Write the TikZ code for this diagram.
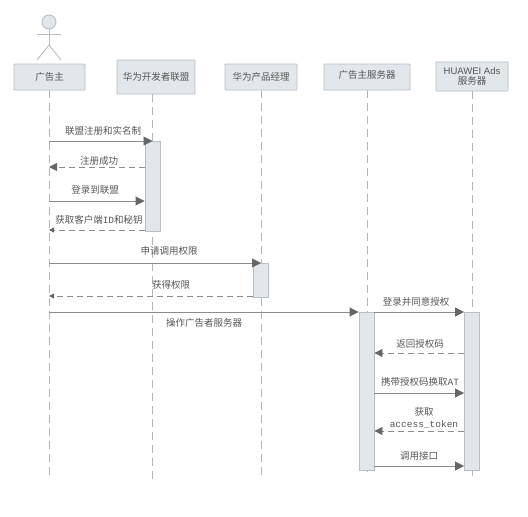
\documentclass[tikz,border=0pt]{standalone}
\usepackage{xcolor}
\usepackage{fontspec}
\setmainfont{Noto Sans CJK SC}
\newfontfamily\latinfont{Liberation Sans}
\newfontfamily\codefont{Liberation Mono}
\usetikzlibrary{arrows.meta}
\definecolor{boxfill}{HTML}{E1E7EB}
\definecolor{boxline}{HTML}{B7BEC4}
\definecolor{lifegray}{HTML}{B5B5B5}
\definecolor{msggray}{HTML}{8C8C8C}
\definecolor{tipgray}{HTML}{666666}
\definecolor{textgray}{HTML}{555555}
\tikzset{
  partbox/.style={fill=boxfill, draw=boxline, line width=0.9pt, rounded corners=0.8pt, inner sep=0pt, align=center, text=textgray, font=\fontsize{9.5}{11}\selectfont},
  barbox/.style={fill=boxfill, draw=boxline, line width=0.9pt, inner sep=0pt, minimum width=15pt},
  lifeline/.style={draw=lifegray, line width=0.8pt, dash pattern=on 8pt off 5pt},
  callmsg/.style={draw=msggray, line width=0.9pt, -{Triangle[length=9pt,width=9pt,color=tipgray]}},
  backmsg/.style={draw=msggray, line width=0.9pt, dash pattern=on 6pt off 4pt, -{Triangle[length=8pt,width=8pt,color=tipgray]}},
  backsmall/.style={backmsg, -{Triangle[length=5pt,width=5pt,color=tipgray]}},
  msglabel/.style={inner sep=0pt, text=textgray, align=center, font=\fontsize{9.5}{12}\selectfont},
  stick/.style={draw=boxline, line width=0.9pt}
}
\begin{document}
\begin{tikzpicture}[x=1pt, y=-1pt]
  \useasboundingbox (0,0) rectangle (528,517);
  % actor
  \node[circle, fill=boxfill, draw=boxline, line width=0.9pt, minimum size=14pt, inner sep=0pt] (head) at (49,22) {};
  \coordinate (hip) at (49,45);
  \coordinate (armL) at (37,34);
  \coordinate (armR) at (61,34);
  \coordinate (footL) at (37,60);
  \coordinate (footR) at (61,60);
  \draw[stick] (head) -- (hip);
  \draw[stick] (armL) -- (armR);
  \draw[stick] (footL) -- (hip) -- (footR);
  % participants
  \node[partbox, minimum width=71pt, minimum height=26pt] (adv) at (49.5,77) {广告主};
  \node[partbox, minimum width=78pt, minimum height=34pt] (union) at (156,77) {华为开发者联盟};
  \node[partbox, minimum width=72pt, minimum height=26pt] (pm) at (261,77) {华为产品经理};
  \node[partbox, minimum width=86pt, minimum height=26pt, text height=8pt, text depth=6pt] (advsrv) at (367,77) {广告主服务器};
  \node[partbox, minimum width=72pt, minimum height=29pt] (ads) at (472,76.5) {{\latinfont HUAWEI Ads}\\[-1pt]服务器};
  % lifelines
  \coordinate (advend) at (49,476);
  \coordinate (unionend) at (152,480);
  \coordinate (pmend) at (261,476);
  \coordinate (advsrvend) at (367,472);
  \coordinate (adsend) at (472,476);
  \draw[lifeline] (adv.south -| advend) -- (advend);
  \draw[lifeline] (union.south -| unionend) -- (unionend);
  \draw[lifeline] (pm.south) -- (pmend);
  \draw[lifeline] (advsrv.south) -- (advsrvend);
  \draw[lifeline] (ads.south) -- (adsend);
  % activation bars
  \node[barbox, minimum height=90pt] (bar1) at (152.5,186) {};
  \node[barbox, minimum height=34pt] (bar2) at (261,280) {};
  \node[barbox, minimum height=158pt] (bar3) at (366.5,391) {};
  \node[barbox, minimum height=158pt] (bar4) at (472,391) {};
  % messages
  \coordinate (m1) at (49,141);
  \coordinate (m2) at (49,167);
  \coordinate (m3) at (49,201);
  \coordinate (m4) at (49,230);
  \coordinate (m5) at (49,263);
  \coordinate (m6) at (49,296);
  \coordinate (m7) at (49,312);
  \draw[callmsg] (m1) -- (bar1.north |- m1);
  \draw[backmsg] (bar1.west |- m2) -- (m2);
  \draw[callmsg] (m3) -- (bar1.west |- m3);
  \draw[backsmall] (bar1.west |- m4) -- (m4);
  \draw[callmsg] (m5) -- (bar2.north |- m5);
  \draw[backsmall] (bar2.west |- m6) -- (m6);
  \draw[callmsg] (m7) -- (bar3.west |- m7);
  \coordinate (s1) at (367,353);
  \coordinate (s2) at (367,393);
  \coordinate (s3) at (367,431);
  \coordinate (s4) at (367,466);
  \draw[callmsg] (bar3.east |- m7) -- (bar4.west |- m7);
  \draw[backmsg] (bar4.west |- s1) -- (bar3.east |- s1);
  \draw[callmsg] (bar3.east |- s2) -- (bar4.west |- s2);
  \draw[backmsg] (bar4.west |- s3) -- (bar3.east |- s3);
  \draw[callmsg] (bar3.east |- s4) -- (bar4.west |- s4);
  % labels
  \node[msglabel] (t1) at (103,131) {联盟注册和实名制};
  \node[msglabel] (t2) at (99,161) {注册成功};
  \node[msglabel] (t3) at (95,190) {登录到联盟};
  \node[msglabel] (t4) at (99,220) {获取客户端{\codefont ID}和秘钥};
  \node[msglabel] (t5) at (169,251) {申请调用权限};
  \node[msglabel] (t6) at (171,285) {获得权限};
  \node[msglabel] (t7) at (204,323) {操作广告者服务器};
  \node[msglabel] (t8) at (416,302) {登录并同意授权};
  \node[msglabel] (t9) at (420,344) {返回授权码};
  \node[msglabel] (t10) at (420,382) {携带授权码换取{\codefont AT}};
  \node[msglabel] (t11) at (424,418) {获取\\{\codefont access\_token}};
  \node[msglabel] (t12) at (419,456) {调用接口};
\end{tikzpicture}
\end{document}
